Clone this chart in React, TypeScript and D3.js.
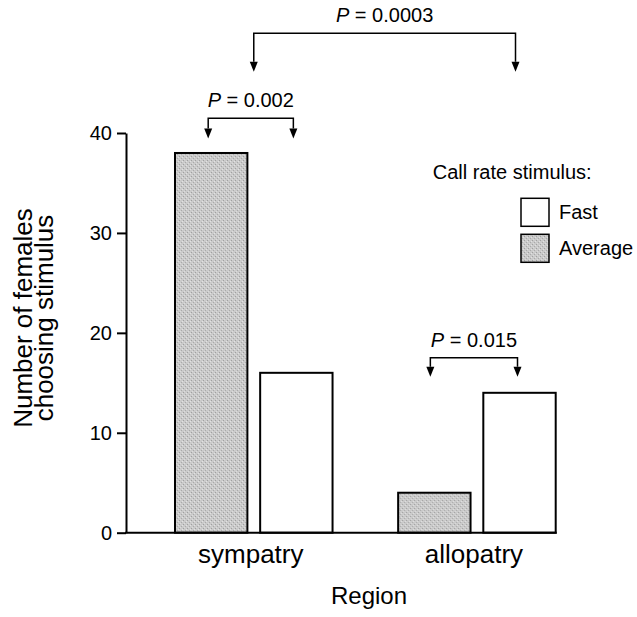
import React from "react";
import * as d3 from "d3";

const regions = ["sympatry", "allopatry"];
const stimuli = ["Average", "Fast"];
const averageCounts = [38, 4];
const fastCounts = [16, 14];
const yTicks = [0, 10, 20, 30, 40];
const legendItems = ["Fast", "Average"];
const pLabels = ["P = 0.0003", "P = 0.002", "P = 0.015"];

const W = 637;
const H = 617;
const FONT = "'Liberation Sans', Arial, Helvetica, sans-serif";

export default function App() {
  const y = d3.scaleLinear().domain([0, 40]).range([532.7, 133]);
  const x0 = d3.scaleBand().domain(regions).range([175, 555.7]).paddingInner(0.294).paddingOuter(0);
  const x1 = d3.scaleBand().domain(stimuli).range([0, x0.bandwidth()]).paddingInner(0.15).paddingOuter(0);
  const fills: Record<string, string> = { Average: "url(#stipple)", Fast: "#ffffff" };

  const rows = regions.map((r, i) => ({ region: r, Average: averageCounts[i], Fast: fastCounts[i] }));

  const axisRef = React.useRef<SVGGElement>(null);
  React.useEffect(() => {
    if (!axisRef.current) return;
    const g = d3.select(axisRef.current);
    g.call(d3.axisLeft(y).tickValues(yTicks).tickSize(9).tickSizeOuter(0).tickPadding(5) as any);
    g.select(".domain").attr("stroke", "#000").attr("stroke-width", 2);
    g.selectAll(".tick line").attr("stroke", "#000").attr("stroke-width", 2);
    g.selectAll(".tick text").attr("font-size", 20).attr("font-family", FONT).attr("fill", "#000");
  }, []);

  const cx = (r: string, s: string) => (x0(r) as number) + (x1(s) as number) + x1.bandwidth() / 2;

  const brackets = [
    { l: (x0("sympatry") as number) + x0.bandwidth() / 2, r: cx("allopatry", "Fast") - 4, top: 33.3, tip: 71.7, label: pLabels[0], ty: 21.7 },
    { l: cx("sympatry", "Average") - 3, r: cx("sympatry", "Fast") - 3, top: 118.3, tip: 138.5, label: pLabels[1], ty: 106.7 },
    { l: cx("allopatry", "Average") - 4, r: cx("allopatry", "Fast") - 2, top: 357.7, tip: 376.7, label: pLabels[2], ty: 346.7 },
  ];

  const legendX = 521;
  const legendY = [198.3, 234.3];

  return (
    <svg width={W} height={H} style={{ position: "absolute", left: 0, top: 0, background: "#fff" }} fontFamily={FONT}>
      <defs>
        <pattern id="stipple" width="4" height="4" patternUnits="userSpaceOnUse">
          <rect width="4" height="4" fill="#cacaca" />
          <rect x="0" y="0" width="1" height="1" fill="#a0a0a0" />
          <rect x="2" y="2" width="1" height="1" fill="#aaaaaa" />
          <rect x="3" y="1" width="1" height="1" fill="#e2e2e2" />
          <rect x="1" y="3" width="1" height="1" fill="#dcdcdc" />
        </pattern>
      </defs>
      <rect width={W} height={H} fill="#fff" />

      {rows.map((row) => (
        <g key={row.region} transform={`translate(${x0(row.region)},0)`}>
          {stimuli.map((s) => (
            <rect
              key={s}
              x={x1(s)}
              y={y((row as any)[s])}
              width={x1.bandwidth()}
              height={y(0) - y((row as any)[s])}
              fill={fills[s]}
              stroke="#000"
              strokeWidth={2}
            />
          ))}
        </g>
      ))}

      <g ref={axisRef} transform="translate(126,0)" />
      <line x1={125} x2={(x0("allopatry") as number) + x0.bandwidth() + 1} y1={y(0)} y2={y(0)} stroke="#000" strokeWidth={2} />

      {regions.map((r) => (
        <text key={r} x={(x0(r) as number) + x0.bandwidth() / 2 - 3} y={563} textAnchor="middle" fontSize={26} fill="#000">
          {r}
        </text>
      ))}
      <text x={369} y={604} textAnchor="middle" fontSize={24} fill="#000">Region</text>

      <text transform="translate(0,318) rotate(-90)" textAnchor="middle" fontSize={26} fill="#000">
        <tspan x={0} y={31.5}>Number of females</tspan>
        <tspan x={0} y={53}>choosing stimulus</tspan>
      </text>

      {brackets.map((b, i) => {
        const ah = 10;
        const aw = 4;
        const [pre, ...rest] = b.label.split(" ");
        return (
          <g key={i}>
            <path d={`M${b.l},${b.tip - ah}V${b.top}H${b.r}V${b.tip - ah}`} fill="none" stroke="#000" strokeWidth={1.5} />
            <path d={`M${b.l - aw},${b.tip - ah}L${b.l + aw},${b.tip - ah}L${b.l},${b.tip}Z`} fill="#000" />
            <path d={`M${b.r - aw},${b.tip - ah}L${b.r + aw},${b.tip - ah}L${b.r},${b.tip}Z`} fill="#000" />
            <text x={(b.l + b.r) / 2} y={b.ty} textAnchor="middle" fontSize={20} fill="#000">
              <tspan fontStyle="italic">{pre}</tspan>
              <tspan>{" " + rest.join(" ")}</tspan>
            </text>
          </g>
        );
      })}

      <text x={432.7} y={179} fontSize={20} fill="#000">Call rate stimulus:</text>
      {legendItems.map((item, i) => (
        <g key={item}>
          <rect x={legendX} y={legendY[i]} width={28} height={28} fill={fills[item]} stroke="#000" strokeWidth={1.5} />
          <text x={559} y={legendY[i] + 21} fontSize={20} fill="#000">{item}</text>
        </g>
      ))}
    </svg>
  );
}
